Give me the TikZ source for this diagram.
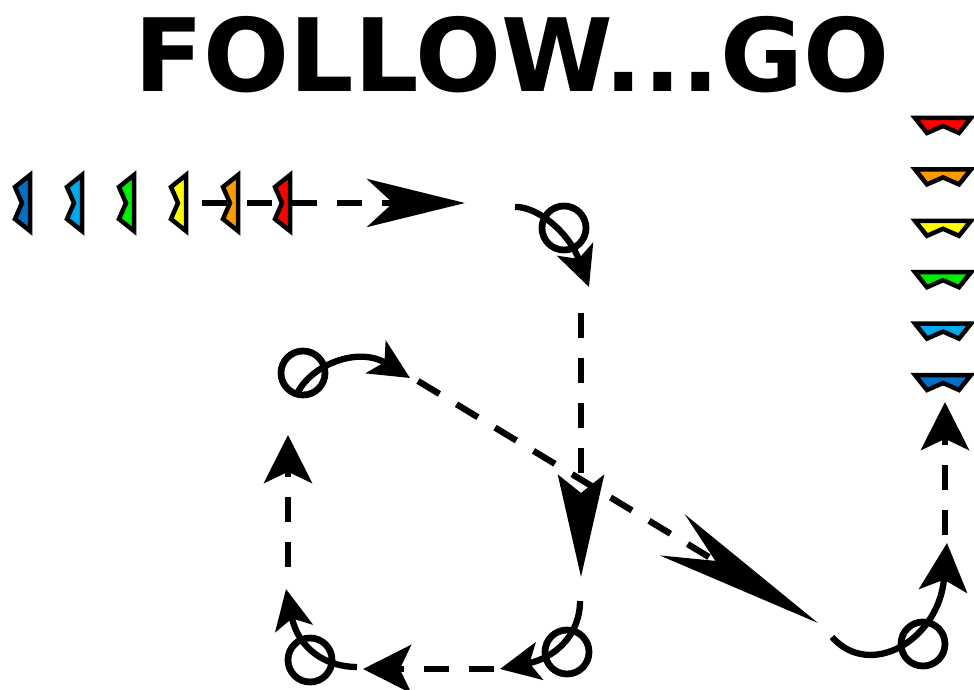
\documentclass[tikz,border=0pt]{standalone}
\usepackage{fontspec}
\usepackage{tikz}
\usetikzlibrary{arrows.meta}
\newfontfamily\titlefont{DejaVu Sans}

\definecolor{conedarkblue}{HTML}{0070C8}
\definecolor{conelightblue}{HTML}{00A8EE}
\definecolor{conegreen}{HTML}{00EE00}
\definecolor{coneyellow}{HTML}{FFFF00}
\definecolor{coneorange}{HTML}{FF9900}
\definecolor{conered}{HTML}{FF0000}

\tikzset{
    route/.style={line width=4.5pt},
    run/.style={route, dash pattern=on 0.625cm off 0.5cm},
    spot/.style={circle, draw, line width=4.8pt, minimum size=1.1cm, inner sep=0pt},
    player/.style={draw, line width=3.2pt},
    cut/.style={-{Stealth[length=1cm,width=0.95cm,inset=0.25cm]}},
    lead/.style={-{Stealth[length=1.2cm,width=1.2cm,inset=0.28cm]}}
}

\begin{document}
\begin{tikzpicture}[x=0.025cm,y=-0.025cm]
    \useasboundingbox (0,0) rectangle (974,690);

    % Title
    \node[anchor=base] (title) at (512,92) {\titlefont\bfseries\fontsize{72}{80}\selectfont FOLLOW...GO};

    % Route points
    \coordinate (s0) at (202,203);
    \coordinate (t0) at (465,203);
    \coordinate (s1) at (515,207);
    \coordinate (t1) at (589,287);
    \coordinate (s2) at (581,313);
    \coordinate (t2) at (581,577);
    \coordinate (s3) at (580,601);
    \coordinate (t3) at (500,669);
    \coordinate (s4) at (494,669);
    \coordinate (t4) at (363,669);
    \coordinate (s5) at (357,667);
    \coordinate (t5) at (286,589);
    \coordinate (s6) at (288,567);
    \coordinate (t6) at (288,435);
    \coordinate (s7) at (298,392);
    \coordinate (t7) at (410,378);
    \coordinate (s8) at (418,381);
    \coordinate (t8) at (818,623);
    \coordinate (s9) at (832,637);
    \coordinate (t9) at (947,543);
    \coordinate (s10) at (945,535);
    \coordinate (t10) at (945,402);

    % Cuts
    \node[spot] (c1) at (564,228) {};
    \node[spot] (c2) at (303,373) {};
    \node[spot] (c3) at (567,652) {};
    \node[spot] (c4) at (310,660) {};
    \node[spot] (c5) at (923,644) {};

    % Dashed legs
    \draw[run, -{Stealth[length=2.45cm,width=1.2cm,inset=0.65cm]}] (s0) -- (t0);
    \draw[run, -{Stealth[length=2.55cm,width=1.15cm,inset=0.45cm]}] (s2) -- (t2);
    \draw[run, lead] (s4) -- (t4);
    \draw[run, lead] (s6) -- (t6);
    \draw[run, -{Stealth[length=4.25cm,width=1.2cm,inset=1.25cm]}] (s8) -- (t8);
    \draw[run, lead] (s10) -- (t10);

    % Curved cuts through the spots
    \draw[route, cut] (s1) .. controls (535,206) and (568,230) .. (t1);
    \draw[route, cut] (s3) .. controls (580,635) and (555,658) .. (t3);
    \draw[route, cut] (s5) .. controls (325,667) and (298,648) .. (t5);
    \draw[route, cut] (s7) .. controls (312,365) and (358,346) .. (t7);
    \draw[route, lead] (s9) .. controls (870,680) and (939,640) .. (t9);

    % Line of players
    \foreach \col [count=\i from 0] in {conedarkblue,conelightblue,conegreen,coneyellow,coneorange,conered} {
        \draw[player, fill=\col, shift={(30+52*\i,203)}] (0,-28) -- (0,28) -- (-15,16) -- (-8,0) -- (-15,-16) -- cycle;
    }

    % Players at the end
    \foreach \col [count=\i from 0] in {conered,coneorange,coneyellow,conegreen,conelightblue,conedarkblue} {
        \draw[player, fill=\col, shift={(943,118+51.4*\i)}] (-28,0) -- (28,0) -- (16,15) -- (0,8) -- (-16,15) -- cycle;
    }

\end{tikzpicture}
\end{document}
